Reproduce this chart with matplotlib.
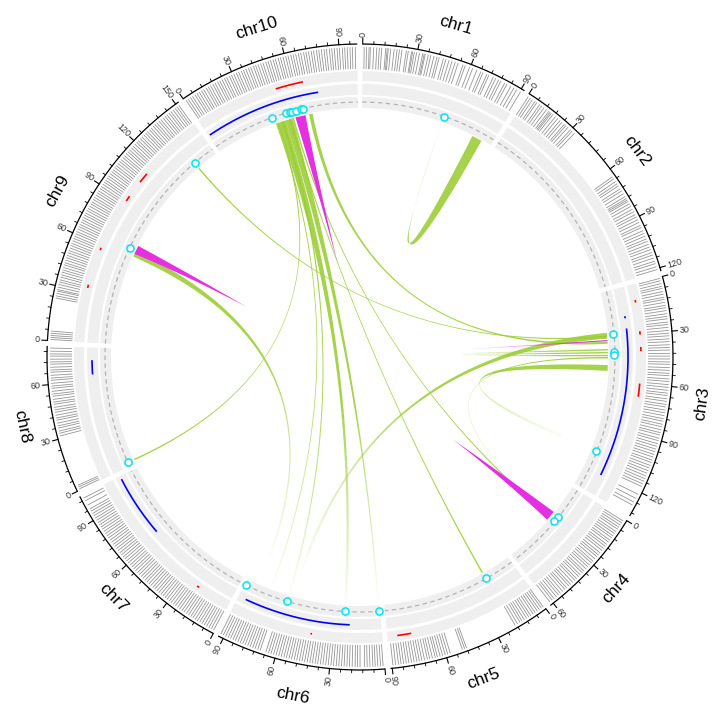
import numpy as np
import matplotlib
matplotlib.use("Agg")
import matplotlib.pyplot as plt
from matplotlib.patches import Wedge
from matplotlib.collections import LineCollection, PolyCollection
from matplotlib.colors import to_rgba

plt.rcParams['font.family'] = ['Liberation Sans', 'DejaVu Sans']

# ---------------- data ----------------
chromosomes = ['chr1', 'chr2', 'chr3', 'chr4', 'chr5', 'chr6', 'chr7', 'chr8', 'chr9', 'chr10']
chrom_length = [92, 122, 134, 62, 91, 93, 105, 81, 152, 100]
tick_major = 30
tick_minor = 6

# outer rug track (feature positions, Mb)
rug_chr1 = [0.8, 2.1, 3.5, 4.2, 6.0, 7.7, 9.1, 10.4, 12.6, 13.4, 14.0, 15.3, 17.2, 18.8, 20.1, 21.5, 23.9, 25.0,
            26.8, 27.4, 28.3, 29.6, 31.2, 33.0, 33.8, 34.4, 36.1, 37.5, 39.3, 41.0, 42.2, 44.6, 46.0, 47.8, 49.5,
            51.3, 53.0, 55.8, 57.1, 59.6, 61.4, 63.9, 66.2, 67.5, 69.8, 71.0, 73.6, 75.1, 76.9, 78.3, 80.6, 82.0,
            84.4, 86.3, 88.1, 90.5]
rug_chr2 = [0.5, 1.9, 3.3, 5.0, 6.2, 8.1, 9.4, 11.0, 12.7, 14.3, 15.2, 16.0, 17.1, 18.9, 20.5, 22.2, 23.6, 25.3,
            26.4, 27.9, 29.8, 31.0, 32.7, 64.2, 65.5, 67.3, 68.8, 70.1, 72.0, 73.4, 75.2, 77.0, 78.3, 79.2, 80.1,
            81.6, 83.2, 85.0, 86.5, 88.3, 89.7, 91.4, 93.0, 94.8, 96.1, 98.0, 99.6, 101.2, 102.9, 104.3, 106.0,
            107.6, 109.1, 110.9, 112.3, 114.0, 115.8, 117.2, 119.0, 120.6]
rug_chr3 = [0.7, 2.0, 3.6, 5.1, 6.3, 8.0, 9.5, 11.2, 12.4, 14.0, 15.7, 17.0, 18.6, 20.3, 21.8, 23.1, 24.9, 26.2,
            27.8, 29.5, 31.0, 32.4, 34.1, 35.6, 37.3, 38.8, 40.2, 42.0, 43.5, 45.1, 46.7, 48.0, 49.8, 51.3, 52.9,
            54.2, 56.0, 57.4, 59.1, 60.6, 62.2, 63.8, 65.1, 66.9, 68.3, 70.0, 71.4, 73.1, 74.6, 76.2, 77.9, 79.3,
            81.0, 82.4, 84.1, 85.7, 87.0, 88.8, 90.2, 91.9, 93.4, 95.0, 96.5, 98.1, 99.6, 101.3, 102.7, 104.4,
            105.9, 107.5, 109.0, 110.6, 112.2, 113.7, 115.3, 116.8, 121.5, 124.0, 126.3, 128.1]
rug_chr4 = [1.2, 2.5, 3.9, 5.3, 6.6, 8.2, 9.5, 11.0, 12.3, 13.9, 15.2, 16.8, 18.1, 19.6, 21.0, 22.7, 24.1, 25.4,
            27.0, 28.6, 29.9, 31.5, 32.8, 34.3, 35.9, 37.2, 38.8, 40.1, 41.7, 43.0, 44.6, 46.2, 47.5, 49.1, 50.4,
            52.0, 53.6, 55.0, 56.5, 58.1, 59.4, 61.0]
rug_chr5 = [0.6, 1.8, 3.2, 4.5, 6.0, 7.3, 8.9, 10.2, 11.6, 13.1, 14.5, 15.8, 17.4, 18.9, 48.2, 49.3, 50.6, 57.5,
            59.0, 60.4, 61.9, 63.3, 64.8, 66.0, 67.6, 69.1, 70.4, 72.0, 73.5, 74.9, 76.3, 77.8, 79.2, 80.7, 82.1,
            83.6, 85.0, 86.4, 88.0, 89.5]
rug_chr6 = [0.9, 2.3, 3.8, 5.2, 6.5, 8.1, 9.6, 11.0, 13.5, 14.9, 16.2, 17.8, 19.3, 20.7, 22.2, 23.6, 25.1, 26.5,
            28.0, 29.4, 30.9, 32.3, 33.8, 35.2, 36.7, 38.1, 39.6, 41.0, 42.5, 43.9, 45.4, 46.8, 48.3, 49.7, 51.2,
            52.6, 54.1, 55.5, 57.0, 58.4, 59.9, 61.3, 62.8, 64.2, 65.7, 69.0, 70.4, 71.9, 73.3, 74.8, 76.2, 77.7,
            79.1, 80.6, 82.0, 83.5, 84.9, 86.4, 87.8, 89.3, 90.7, 92.2]
rug_chr7 = [0.7, 2.2, 3.6, 5.1, 6.5, 8.0, 9.4, 10.9, 12.3, 13.8, 15.2, 16.7, 18.1, 19.6, 21.0, 22.5, 23.9, 25.4,
            26.8, 28.3, 29.7, 31.2, 32.6, 34.1, 35.5, 37.0, 38.4, 39.9, 41.3, 42.8, 44.2, 45.7, 47.1, 48.6, 50.0,
            51.5, 52.9, 54.4, 55.8, 57.3, 58.7, 60.2, 61.6, 63.1, 64.5, 66.0, 67.4, 68.9, 70.3, 71.8, 73.2, 74.7,
            76.1, 77.6, 79.0, 80.5, 81.9, 83.4, 84.8, 86.3, 87.7, 89.2, 90.6, 92.1, 93.5, 95.0, 96.4, 98.8, 101.5,
            103.2]
rug_chr8 = [0.8, 1.9, 2.9, 31.5, 33.0, 34.2, 35.9, 37.1, 38.6, 40.3, 41.5, 43.0, 44.7, 46.0, 47.4, 49.1, 50.3,
            51.8, 53.5, 54.7, 56.2, 57.9, 59.1, 60.6, 62.3, 63.5, 65.0, 66.7, 67.9, 69.4, 71.1, 72.3, 73.8, 75.5,
            76.7, 78.2, 79.9]
rug_chr9 = [0.6, 1.7, 2.8, 4.0, 5.2, 23.4, 24.6, 26.0, 27.3, 28.1, 29.5, 31.0, 32.4, 33.6, 35.1, 36.4, 37.9, 39.2,
            40.6, 42.1, 43.3, 44.8, 46.2, 47.5, 49.0, 50.3, 51.8, 53.2, 54.5, 56.0, 57.4, 58.7, 60.2, 61.5, 63.0,
            64.4, 65.7, 67.2, 68.5, 70.0, 71.4, 72.7, 74.2, 75.5, 77.0, 78.4, 79.7, 81.2, 82.5, 84.0, 85.4, 86.7,
            88.2, 89.5, 91.0, 92.4, 93.7, 95.2, 96.5, 98.0, 99.4, 100.7, 102.2, 103.5, 105.0, 106.4, 107.7, 109.2,
            110.5, 112.0, 113.4, 114.7, 116.2, 117.5, 119.0, 120.4, 121.7, 123.2, 124.5, 126.0, 127.4, 128.7,
            130.2, 131.5, 133.0, 134.4, 135.7, 137.2, 138.5, 140.0, 141.4, 142.7, 144.2, 145.5, 147.0, 148.4,
            149.7, 151.0]
rug_chr10 = [0.9, 2.2, 3.7, 5.0, 6.6, 7.9, 9.3, 10.8, 12.1, 13.7, 15.0, 16.4, 17.9, 19.2, 20.8, 22.1, 23.5, 25.0,
             26.3, 27.9, 29.2, 30.6, 32.1, 33.4, 35.0, 36.3, 37.7, 39.2, 40.5, 42.1, 43.4, 44.8, 46.3, 47.6, 49.2,
             50.5, 51.9, 53.4, 54.7, 56.3, 57.6, 59.0, 60.5, 61.8, 63.4, 64.7, 66.1, 67.6, 68.9, 70.5, 71.8, 73.2,
             74.7, 76.0, 77.6, 78.9, 80.3, 81.8, 83.1, 84.7, 86.0, 87.4, 88.9, 90.2, 91.8, 93.1, 94.5, 96.0, 97.3,
             98.9]
rug_positions = [rug_chr1, rug_chr2, rug_chr3, rug_chr4, rug_chr5, rug_chr6, rug_chr7, rug_chr8, rug_chr9, rug_chr10]

# red segments track
red_chr = ['chr3', 'chr3', 'chr3', 'chr3', 'chr5', 'chr6', 'chr7', 'chr9', 'chr9', 'chr9', 'chr9', 'chr10']
red_start = [9.5, 28.5, 38.0, 60.0, 76.5, 42.5, 20.5, 33.0, 57.0, 90.5, 104.5, 50.0]
red_end = [11.0, 30.5, 40.5, 68.0, 85.0, 43.5, 22.0, 35.0, 58.5, 94.0, 111.0, 67.0]

# blue arcs track
blue_chr = ['chr3', 'chr3', 'chr6', 'chr7', 'chr8', 'chr10']
blue_start = [18.2, 26.0, 20.0, 63.0, 64.0, 1.0]
blue_end = [19.5, 121.0, 88.0, 103.0, 73.0, 75.0]

# point track
point_chr = ['chr1', 'chr3', 'chr3', 'chr3', 'chr3', 'chr4', 'chr4', 'chr5', 'chr6', 'chr6', 'chr6', 'chr6',
             'chr8', 'chr9', 'chr9', 'chr10', 'chr10', 'chr10', 'chr10', 'chr10', 'chr10', 'chr10']
point_pos = [55.2, 28.5, 41.0, 43.0, 108.0, 21.8, 25.6, 20.3, 1.0, 23.8, 62.6, 92.0,
             3.0, 66.0, 137.0, 42.0, 51.8, 54.4, 55.9, 58.2, 62.0, 63.0]

# links
link_chr_a = ['chr1', 'chr10', 'chr10', 'chr10', 'chr10', 'chr10', 'chr9', 'chr8', 'chr9', 'chr3', 'chr3',
              'chr3', 'chr3', 'chr3', 'chr10', 'chr10', 'chr3', 'chr4', 'chr10', 'chr3']
link_a1 = [78.0, 44.0, 50.0, 52.5, 55.0, 47.0, 61.5, 2.5, 136.5, 27.5, 38.5, 40.5, 42.5, 49.5, 66.5, 43.0, 44.0,
           21.0, 57.0, 32.4]
link_a2 = [85.0, 50.0, 55.0, 53.5, 56.0, 48.5, 65.5, 3.5, 137.5, 31.5, 39.5, 41.5, 43.5, 53.5, 69.0, 44.0, 45.0,
           28.0, 64.0, 33.2]
link_chr_b = ['chr1', 'chr6', 'chr6', 'chr5', 'chr4', 'chr6', 'chr6', 'chr10', 'chr3', 'chr6', 'chr8', 'chr8',
              'chr9', 'chr3', 'chr3', 'chr6', 'chr4', 'chr9', 'chr5', 'chr8']
link_b1 = [55.0, 22.5, 0.5, 19.8, 25.0, 61.8, 84.0, 44.0, 29.5, 58.0, 75.0, 79.0, 2.0, 106.0, 33.5, 75.0, 22.0,
           63.5, 60.0, 70.0]
link_b2 = [55.6, 24.5, 1.5, 20.8, 26.0, 63.0, 85.5, 45.0, 30.5, 60.0, 76.0, 80.0, 3.0, 108.5, 35.0, 76.0, 23.0,
           69.5, 61.0, 70.8]
link_type = ['syn', 'syn', 'syn', 'syn', 'syn', 'syn', 'syn', 'syn', 'syn', 'syn', 'syn', 'syn', 'syn', 'syn',
             'syn', 'syn', 'syn', 'inv', 'inv', 'inv']

# ---------------- styles ----------------
link_colors = {'syn': '#9acd32', 'inv': '#e62ee3'}
link_alpha = {'syn': 0.88, 'inv': 1.0}
# (fade start, fade end) along the link from end A (t=0) to end B (t=1)
link_fade = [(0.6, 1.0), (0.6, 1.0), (0.6, 1.0), (1.0, 1.01), (1.0, 1.01), (0.6, 1.0), (0.4, 0.95),
             (1.0, 1.01), (1.0, 1.01), (0.45, 0.95), (0.1, 0.3), (0.1, 0.3), (0.1, 0.3), (0.35, 0.95),
             (1.0, 1.01), (0.55, 1.0), (0.3, 0.85), (1.0, 1.01), (1.0, 1.01), (0.05, 0.28)]
# tapering of ribbons towards the middle (fraction from each end; 0 = end hidden), None = plain ribbon
link_taper = [None] * 17 + [(0.25, 0.25), (0.3, 0.0), None]

W, H = 715, 709
CX, CY = 360.0, 709 - 357.0
START, GAP = 89.5, 1.0
R_AXIS = 313
R_RUG = (288, 310)
R_RED = (276, 286)
R_BLUE = (262, 273)
R_PT = (249, 260)
R_LINK = 248
BG = '#efefef'

total = sum(chrom_length)
DPM = (360.0 - GAP * len(chromosomes)) / total
start_angle = {}
a = START
for c, L in zip(chromosomes, chrom_length):
    start_angle[c] = a
    a -= L * DPM + GAP


def ang(c, pos):
    return start_angle[c] - np.asarray(pos, dtype=float) * DPM


def xy(theta, r):
    t = np.radians(theta)
    return CX + r * np.cos(t), CY + r * np.sin(t)


fig = plt.figure(figsize=(W / 100, H / 100), dpi=100)
ax = fig.add_axes([0, 0, 1, 1])
ax.set_xlim(0, W)
ax.set_ylim(0, H)
ax.axis('off')

# track backgrounds
for c, L in zip(chromosomes, chrom_length):
    for (ri, ro) in (R_RED, R_BLUE, R_PT):
        ax.add_patch(Wedge((CX, CY), ro, float(ang(c, L)), float(ang(c, 0)), width=ro - ri,
                           facecolor=BG, edgecolor='none', zorder=1))

# rug lines
segs = []
for c, pos in zip(chromosomes, rug_positions):
    th = ang(c, pos)
    x0, y0 = xy(th, R_RUG[0])
    x1, y1 = xy(th, R_RUG[1])
    for i in range(len(th)):
        segs.append([(x0[i], y0[i]), (x1[i], y1[i])])
ax.add_collection(LineCollection(segs, colors='#959595', linewidths=0.6, zorder=2))

# axis with ticks
for c, L in zip(chromosomes, chrom_length):
    th = np.linspace(float(ang(c, 0)), float(ang(c, L)), 200)
    x, y = xy(th, R_AXIS)
    ax.plot(x, y, color='black', lw=0.9, zorder=3, solid_capstyle='butt')
    for v in range(0, L + 1, tick_minor):
        t = float(ang(c, v))
        major = (v % tick_major == 0)
        x0, y0 = xy(t, R_AXIS)
        x1, y1 = xy(t, R_AXIS + (5.5 if major else 2.8))
        ax.plot([x0, x1], [y0, y1], color='black', lw=0.8 if major else 0.6, zorder=3)
        if major:
            tn = (t + 180) % 360 - 180
            lx, ly = xy(t, R_AXIS + 7.5)
            if -90 < tn < 90:
                rot, ha = tn, 'left'
            else:
                rot, ha = tn + 180, 'right'
            ax.text(lx, ly, str(v), rotation=rot, ha=ha, va='center', rotation_mode='anchor',
                    fontsize=6.5, color='#333333', zorder=4)
    tm = float(ang(c, L / 2.0)) % 360
    lx, ly = xy(tm, 345)
    rot = tm + 90 if 180 < tm < 360 else tm - 90
    ax.text(lx, ly, c, rotation=rot, ha='center', va='center', rotation_mode='anchor',
            fontsize=12.5, color='black', zorder=4)

# red segments
r_red = (R_RED[0] + R_RED[1]) / 2
for c, s, e in zip(red_chr, red_start, red_end):
    th = np.linspace(float(ang(c, s)), float(ang(c, e)), 30)
    x, y = xy(th, r_red)
    ax.plot(x, y, color='#ff0000', lw=1.2, solid_capstyle='butt', zorder=3)

# blue arcs
r_blue = 268
for c, s, e in zip(blue_chr, blue_start, blue_end):
    th = np.linspace(float(ang(c, s)), float(ang(c, e)), 100)
    x, y = xy(th, r_blue)
    ax.plot(x, y, color='#0000ff', lw=1.2, solid_capstyle='butt', zorder=3)

# dashed baseline + points
r_pt = 255
for c, L in zip(chromosomes, chrom_length):
    th = np.linspace(float(ang(c, 0)), float(ang(c, L)), 200)
    x, y = xy(th, r_pt)
    ax.plot(x, y, color='#b3b3b3', lw=0.9, dashes=(3.5, 2.8), zorder=3)
px, py = [], []
for c, p in zip(point_chr, point_pos):
    x, y = xy(float(ang(c, p)), r_pt - 0.5)
    px.append(x)
    py.append(y)
ax.scatter(px, py, s=26, facecolors='white', edgecolors='#00e5ee', linewidths=1.1, zorder=5)


# links
def bez(p0, p2, t):
    c = np.array([CX, CY])
    t = t[:, None]
    return (1 - t) ** 2 * p0 + 2 * t * (1 - t) * c + t ** 2 * p2


N = 120
LEVELS = 24
tt = np.linspace(0, 1, N + 1)
order = [i for i in range(len(link_type)) if link_type[i] == 'syn'] + \
        [i for i in range(len(link_type)) if link_type[i] != 'syn']
for i in order:
    ca, a1, a2 = link_chr_a[i], link_a1[i], link_a2[i]
    cb, b1, b2 = link_chr_b[i], link_b1[i], link_b2[i]
    pa1 = np.array(xy(float(ang(ca, a1)), R_LINK))
    pa2 = np.array(xy(float(ang(ca, a2)), R_LINK))
    pb1 = np.array(xy(float(ang(cb, b1)), R_LINK))
    pb2 = np.array(xy(float(ang(cb, b2)), R_LINK))
    e1 = bez(pa2, pb1, tt)
    e2 = bez(pa1, pb2, tt)
    mid = (e1 + e2) / 2
    tp = link_taper[i]
    if tp is None:
        m = np.ones_like(tt)
    else:
        sa, sb = tp
        ma = np.clip(1 - tt / sa, 0, 1) if sa > 0 else np.zeros_like(tt)
        mb = np.clip((tt - (1 - sb)) / sb, 0, 1) if sb > 0 else np.zeros_like(tt)
        m = np.where(tt < 0.5, ma, mb)
    e1 = mid + m[:, None] * (e1 - mid)
    e2 = mid + m[:, None] * (e2 - mid)
    fs, fe = link_fade[i]
    amax = link_alpha[link_type[i]]
    tm_seg = 0.5 * (tt[:-1] + tt[1:])
    al = np.clip((fe - tm_seg) / (fe - fs), 0, 1)
    lev = np.round(al * LEVELS).astype(int)
    visible = (lev > 0) & ~((m[:-1] == 0) & (m[1:] == 0))
    base = np.array(to_rgba(link_colors[link_type[i]]))
    polys, cols = [], []
    k = 0
    while k < N:
        if not visible[k]:
            k += 1
            continue
        j = k
        while j + 1 < N and visible[j + 1] and lev[j + 1] == lev[k]:
            j += 1
        poly = np.vstack([e1[k:j + 2], e2[k:j + 2][::-1]])
        polys.append(poly)
        col = base.copy()
        col[3] = amax * lev[k] / LEVELS
        cols.append(col)
        k = j + 1
    if polys:
        ax.add_collection(PolyCollection(polys, facecolors=cols, edgecolors='none', zorder=6))

fig.savefig('out.png', dpi=100)
